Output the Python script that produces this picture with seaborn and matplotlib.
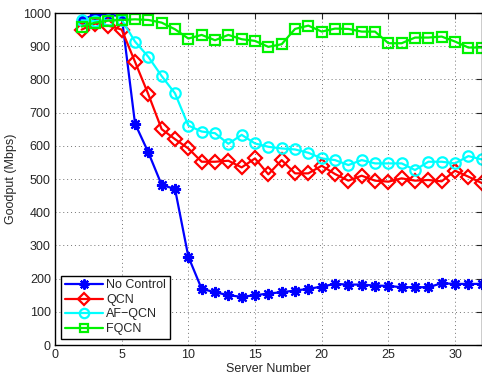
import numpy as np
import pandas as pd
import seaborn as sns
import matplotlib
matplotlib.use("Agg")
import matplotlib.pyplot as plt

servers = list(range(2, 33))
no_control = [980, 995, 995, 990, 667, 580, 482, 470, 266, 169, 159, 150, 145, 150, 155, 159,
              164, 169, 176, 184, 182, 182, 179, 178, 174, 174, 174, 186, 184, 184, 184]
qcn = [950, 968, 962, 950, 853, 755, 650, 620, 592, 552, 552, 555, 535, 562, 514, 557,
       517, 517, 540, 515, 495, 510, 495, 492, 502, 495, 497, 493, 525, 507, 488]
af_qcn = [978, 976, 978, 980, 914, 868, 810, 758, 661, 643, 638, 606, 633, 607, 597, 592,
          589, 579, 562, 557, 542, 557, 547, 547, 547, 527, 552, 552, 547, 569, 559]
fqcn = [959, 971, 977, 979, 981, 979, 971, 951, 923, 934, 918, 934, 921, 916, 898, 906,
        952, 962, 944, 953, 952, 944, 944, 909, 909, 926, 926, 929, 914, 896, 896]

labels = ["No Control", "QCN", "AF\u2212QCN", "FQCN"]
xticks = [0, 5, 10, 15, 20, 25, 30]
yticks = list(range(0, 1001, 100))

sns.set_style("white")
plt.rcParams['font.family'] = ['Liberation Sans', 'DejaVu Sans']

fig = plt.figure(figsize=(4.82, 3.76), dpi=100)
ax = fig.add_axes([55/482, 31/376, 426.7/482, 332/376])

series = [no_control, qcn, af_qcn, fqcn]
colors = [(0, 0, 1), (1, 0, 0), (0, 1, 1), (0, 0.95, 0)]
markers = [(8, 2, 0), 'D', 'o', 's']
msizes = [8, 7, 7.5, 6.5]

for vals, lab, col, mk, ms in zip(series, labels, colors, markers, msizes):
    df = pd.DataFrame({"x": servers, "y": vals})
    sns.lineplot(data=df, x="x", y="y", ax=ax, color=col, linewidth=1.6,
                 marker=mk, markersize=ms, markerfacecolor='none',
                 markeredgecolor=col, markeredgewidth=1.6, label=lab)

ax.set_xlim(0, 32)
ax.set_ylim(0, 1000)
ax.set_xticks(xticks)
ax.set_yticks(yticks)
ax.set_xlabel("Server Number", fontsize=9, labelpad=1)
ax.set_ylabel("Goodput (Mbps)", fontsize=9, labelpad=4)
ax.tick_params(direction='in', top=True, right=True, labelsize=9, length=4, width=0.8, pad=3)
ax.grid(True, linestyle=(0, (1, 3)), color='0.45', linewidth=0.7)
for s in ax.spines.values():
    s.set_color('black')
    s.set_linewidth(1)

leg = ax.legend(loc='lower left', fontsize=9, frameon=True, fancybox=False,
                edgecolor='black', framealpha=1, borderpad=0.3, labelspacing=0.2,
                handlelength=3, handletextpad=0.3, borderaxespad=0.5, markerscale=0.9)
leg.get_frame().set_linewidth(1)

fig.savefig("out.png", dpi=100)
